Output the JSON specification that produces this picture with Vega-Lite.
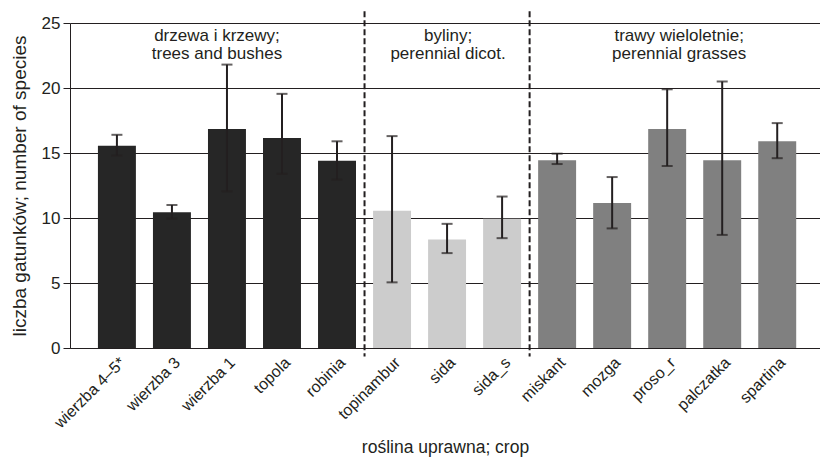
{
  "$schema": "https://vega.github.io/schema/vega-lite/v6.json",
  "autosize": "none",
  "width": 750,
  "height": 325,
  "padding": {"left": 70, "top": 23, "right": 0, "bottom": 109},
  "background": "white",
  "config": {
    "font": "Liberation Sans",
    "view": {"stroke": null},
    "axis": {"labelColor": "#231f20", "titleColor": "#231f20", "titleFontWeight": "normal", "labelFont": "Liberation Sans", "titleFont": "Liberation Sans"}
  },
  "datasets": {
    "bars": [
      {"crop": "wierzba 4–5*", "group": "trees", "mean": 15.55, "lo": 14.8, "hi": 16.4},
      {"crop": "wierzba 3", "group": "trees", "mean": 10.45, "lo": 9.95, "hi": 11.0},
      {"crop": "wierzba 1", "group": "trees", "mean": 16.85, "lo": 12.05, "hi": 21.8},
      {"crop": "topola", "group": "trees", "mean": 16.15, "lo": 13.4, "hi": 19.55},
      {"crop": "robinia", "group": "trees", "mean": 14.4, "lo": 12.95, "hi": 15.9},
      {"crop": "topinambur", "group": "dicot", "mean": 10.55, "lo": 5.05, "hi": 16.3},
      {"crop": "sida", "group": "dicot", "mean": 8.35, "lo": 7.3, "hi": 9.55},
      {"crop": "sida_s", "group": "dicot", "mean": 9.95, "lo": 8.45, "hi": 11.65},
      {"crop": "miskant", "group": "grasses", "mean": 14.45, "lo": 14.15, "hi": 14.95},
      {"crop": "mozga", "group": "grasses", "mean": 11.15, "lo": 9.2, "hi": 13.15},
      {"crop": "proso_r", "group": "grasses", "mean": 16.85, "lo": 14.0, "hi": 19.9},
      {"crop": "palczatka", "group": "grasses", "mean": 14.45, "lo": 8.7, "hi": 20.5},
      {"crop": "spartina", "group": "grasses", "mean": 15.9, "lo": 14.6, "hi": 17.3}
    ],
    "dividers": [
      {"crop": "topinambur", "top": 25.9, "bottom": -0.65},
      {"crop": "miskant", "top": 25.9, "bottom": -0.65}
    ],
    "labels": [
      {"group": "trees", "anchor": "wierzba 1", "label": "drzewa i krzewy;\ntrees and bushes"},
      {"group": "dicot", "anchor": "sida", "label": "byliny;\nperennial dicot."},
      {"group": "grasses", "anchor": "proso_r", "label": "trawy wieloletnie;\nperennial grasses"}
    ]
  },
  "layer": [
    {
      "data": {"name": "bars"},
      "mark": {"type": "bar"},
      "encoding": {
        "x": {
          "field": "crop", "type": "nominal", "sort": null,
          "scale": {"paddingInner": 0.31, "paddingOuter": 0.47, "align": 0.54},
          "axis": {"title": "roślina uprawna; crop", "titleFontSize": 17.5, "labelFontSize": 16, "labelAngle": -45, "ticks": false, "domainColor": "#231f20", "domainWidth": 1, "labelPadding": 6, "titleBaseline": "alphabetic", "titleY": 104, "grid": false}
        },
        "y": {
          "field": "mean", "type": "quantitative",
          "scale": {"domain": [0, 25], "nice": false},
          "axis": {"title": "liczba gatunków; number of species", "titleFontSize": 19, "labelFontSize": 17, "values": [0, 5, 10, 15, 20, 25], "tickSize": 7, "tickColor": "#231f20", "domainColor": "#231f20", "gridColor": "#231f20", "gridOpacity": 1, "gridWidth": 1, "labelPadding": 3, "titlePadding": 12}
        },
        "color": {
          "field": "group", "type": "nominal",
          "scale": {"domain": ["trees", "dicot", "grasses"], "range": ["#262626", "#cccccc", "#808080"]},
          "legend": null
        }
      }
    },
    {
      "data": {"name": "bars"},
      "mark": {"type": "rule", "color": "#231f20", "strokeWidth": 2},
      "encoding": {
        "x": {"field": "crop", "type": "nominal", "sort": null},
        "y": {"field": "lo", "type": "quantitative"},
        "y2": {"field": "hi"}
      }
    },
    {
      "data": {"name": "bars"},
      "mark": {"type": "tick", "color": "#231f20", "size": 11, "thickness": 2},
      "encoding": {
        "x": {"field": "crop", "type": "nominal", "sort": null},
        "y": {"field": "lo", "type": "quantitative"}
      }
    },
    {
      "data": {"name": "bars"},
      "mark": {"type": "tick", "color": "#231f20", "size": 11, "thickness": 2},
      "encoding": {
        "x": {"field": "crop", "type": "nominal", "sort": null},
        "y": {"field": "hi", "type": "quantitative"}
      }
    },
    {
      "data": {"name": "dividers"},
      "mark": {"type": "rule", "color": "#231f20", "strokeWidth": 2, "strokeDash": [6, 3]},
      "encoding": {
        "x": {"field": "crop", "type": "nominal", "sort": null, "bandPosition": -0.2246},
        "y": {"field": "top", "type": "quantitative"},
        "y2": {"field": "bottom"}
      }
    },
    {
      "data": {"name": "labels"},
      "transform": [{"filter": "datum.group === 'trees'"}],
      "mark": {"type": "text", "lineBreak": "\n", "fontSize": 17, "lineHeight": 18.5, "baseline": "top", "align": "center", "color": "#231f20", "dx": -10},
      "encoding": {
        "x": {"field": "anchor", "type": "nominal", "sort": null, "bandPosition": 0.5},
        "y": {"datum": 24.65},
        "text": {"field": "label"}
      }
    },
    {
      "data": {"name": "labels"},
      "transform": [{"filter": "datum.group === 'dicot'"}],
      "mark": {"type": "text", "lineBreak": "\n", "fontSize": 17, "lineHeight": 18.5, "baseline": "top", "align": "center", "color": "#231f20", "dx": 1},
      "encoding": {
        "x": {"field": "anchor", "type": "nominal", "sort": null, "bandPosition": 0.5},
        "y": {"datum": 24.65},
        "text": {"field": "label"}
      }
    },
    {
      "data": {"name": "labels"},
      "transform": [{"filter": "datum.group === 'grasses'"}],
      "mark": {"type": "text", "lineBreak": "\n", "fontSize": 17, "lineHeight": 18.5, "baseline": "top", "align": "center", "color": "#231f20", "dx": 12},
      "encoding": {
        "x": {"field": "anchor", "type": "nominal", "sort": null, "bandPosition": 0.5},
        "y": {"datum": 24.65},
        "text": {"field": "label"}
      }
    }
  ]
}
